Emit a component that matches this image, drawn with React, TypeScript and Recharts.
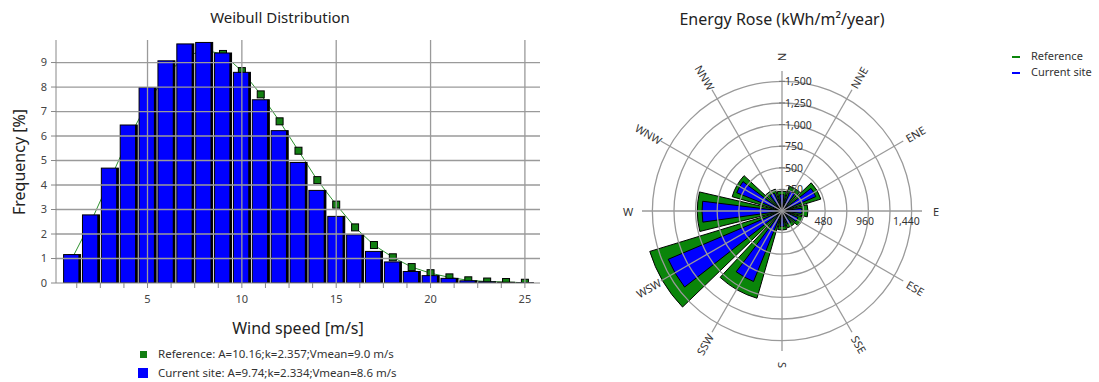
import React from 'react';
import {
  ComposedChart, Bar, Line, XAxis, YAxis, CartesianGrid,
  RadialBarChart, RadialBar, PolarAngleAxis, PolarRadiusAxis, PolarGrid,
} from 'recharts';

// ---------- Weibull distribution data ----------
const windSpeeds = [1, 2, 3, 4, 5, 6, 7, 8, 9, 10, 11, 12, 13, 14, 15, 16, 17, 18, 19, 20, 21, 22, 23, 24, 25];
const currentFrequency = [1.16, 2.78, 4.69, 6.45, 7.98, 9.07, 9.76, 9.82, 9.39, 8.6, 7.48, 6.22, 4.92, 3.78, 2.72, 1.97, 1.29, 0.86, 0.47, 0.3, 0.19, 0.09, 0.05, 0.03, 0.01];
const referenceFrequency = [1.0, 2.5, 4.2, 5.9, 7.35, 8.5, 9.25, 9.5, 9.35, 8.65, 7.7, 6.6, 5.4, 4.2, 3.2, 2.27, 1.55, 1.05, 0.65, 0.4, 0.23, 0.11, 0.06, 0.04, 0.01];
const xTicks = [1.25, 2.5, 3.75, 5, 6.25, 7.5, 8.75, 10, 11.25, 12.5, 13.75, 15, 16.25, 17.5, 18.75, 20, 21.25, 22.5, 23.75, 25];
const xGridValues = [5, 10, 15, 20, 25];
const yTicks = [0, 1, 2, 3, 4, 5, 6, 7, 8, 9];
const yGridValues = [1, 2, 3, 4, 5, 6, 7, 8, 9];
const yMinorTicks = [0, 0.2, 0.4, 0.6, 0.8, 1, 1.2, 1.4, 1.6, 1.8, 2, 2.2, 2.4, 2.6, 2.8, 3, 3.2, 3.4, 3.6, 3.8, 4, 4.2, 4.4, 4.6, 4.8, 5, 5.2, 5.4, 5.6, 5.8, 6, 6.2, 6.4, 6.6, 6.8, 7, 7.2, 7.4, 7.6, 7.8, 8, 8.2, 8.4, 8.6, 8.8, 9, 9.2, 9.4, 9.6, 9.8];
const weibullLegend = [
  'Reference: A=10.16;k=2.357;Vmean=9.0 m/s',
  'Current site: A=9.74;k=2.334;Vmean=8.6 m/s',
];

// ---------- Energy rose data ----------
const directions = ['N', 'NNE', 'ENE', 'E', 'ESE', 'SSE', 'S', 'SSW', 'WSW', 'W', 'WNW', 'NNW'];
const referenceEnergy = [230, 300, 470, 300, 255, 205, 220, 1050, 1600, 980, 600, 265];
const currentEnergy = [190, 255, 425, 230, 200, 165, 180, 880, 1430, 925, 565, 225];
const northTicks = [250, 500, 750, 1000, 1250, 1500];
const eastTicks = [480, 960, 1440];
const roseLegend = ['Reference', 'Current site'];

const weibullData = windSpeeds.map((v, i) => ({
  speed: v,
  current: currentFrequency[i],
  reference: referenceFrequency[i],
}));
const roseData = directions.map((d, i) => ({
  dir: d,
  reference: referenceEnergy[i],
  current: currentEnergy[i],
}));

const FONT = '"Noto Sans", "DejaVu Sans", sans-serif';
const GREEN = '#0a850a';
const BLUE = '#0000ff';
const GRID = '#9a9a9a';

const SECTOR = 360 / directions.length;
const spokeAngles = directions.map((_, i) => 90 - i * SECTOR);

const ROSE_CX = 200;
const ROSE_CY = 211;
const ROSE_R = 140;
const LABEL_R = 154;

const X_DOMAIN: [number, number] = [0.15, 25.8];
const Y_DOMAIN: [number, number] = [0, 9.92];

const BarShape = (p: any) => {
  const { x, y, width, height } = p;
  if (!height || height <= 0) return null;
  return (
    <g>
      <rect x={x} y={y} width={width} height={height} fill={BLUE} stroke="#000" strokeWidth={1} />
      <rect x={x + width - 2.2} y={y} width={2.2} height={height} fill="#000" />
    </g>
  );
};

const SquareDot = (p: any) => {
  const { cx, cy, index } = p;
  if (cx == null || cy == null) return <g key={index} />;
  return <rect key={index} x={cx - 3.5} y={cy - 3.5} width={7} height={7} fill="#127f12" stroke="#000" strokeWidth={1} />;
};

const fmt = (v: number) => v.toLocaleString('en-US');

const NorthTick = (p: any) => {
  const { x, y, payload } = p;
  return (
    <g>
      <line x1={x - 3} y1={y} x2={x + 3} y2={y} stroke="#777" strokeWidth={1} />
      <text x={x + 3} y={y + 4} fontSize={10.5} fontFamily={FONT} fill="#333">{fmt(payload.value)}</text>
    </g>
  );
};

const EastTick = (p: any) => {
  const { x, y, payload } = p;
  return (
    <text x={x} y={y + 14} textAnchor="middle" fontSize={10.5} fontFamily={FONT} fill="#333">{fmt(payload.value)}</text>
  );
};

const DirTick = (p: any) => {
  const { payload } = p;
  const ang = payload.coordinate + SECTOR / 2;
  const rad = (ang * Math.PI) / 180;
  const x = ROSE_CX + LABEL_R * Math.cos(rad);
  const y = ROSE_CY - LABEL_R * Math.sin(rad);
  let a = (((-ang) % 360) + 360) % 360;
  if (a > 90 && a <= 270) a -= 180;
  else if (a > 270) a -= 360;
  return (
    <text x={x} y={y} textAnchor="middle" dominantBaseline="central" fontSize={11} fontFamily={FONT} fill="#333"
      transform={`rotate(${a}, ${x}, ${y})`}>{payload.value}</text>
  );
};

const abs = (left: number, top: number, extra: any = {}) => ({ position: 'absolute' as const, left, top, ...extra });

export default function App() {
  return (
    <div style={{ position: 'absolute', left: 0, top: 0, width: 1099, height: 382, background: '#fff', fontFamily: FONT, overflow: 'hidden' }}>
      {/* ---- Weibull chart: reference line layer (beneath bars) ---- */}
      <div style={abs(0, 0)}>
        <ComposedChart width={560} height={382} data={weibullData} margin={{ top: 40, right: 20, bottom: 99, left: 56 }}>
          <XAxis dataKey="speed" type="number" domain={X_DOMAIN} allowDataOverflow hide />
          <YAxis type="number" domain={Y_DOMAIN} allowDataOverflow hide />
          <Line dataKey="reference" type="linear" stroke="#2f922f" strokeWidth={1} dot={<SquareDot />}
            activeDot={false} isAnimationActive={false} />
        </ComposedChart>
      </div>
      {/* ---- Weibull chart: bars, grid, axes ---- */}
      <div style={abs(0, 0)}>
        <ComposedChart width={560} height={382} data={weibullData} margin={{ top: 40, right: 20, bottom: 69, left: 0 }}>
          <XAxis dataKey="speed" type="number" domain={X_DOMAIN} allowDataOverflow ticks={xTicks}
            tickFormatter={(v: number) => (v % 5 === 0 ? String(v) : '')} interval={0}
            height={30} tickSize={5} tickMargin={7} stroke="#888"
            tick={{ fontSize: 11, fill: '#444', fontFamily: FONT }} />
          <YAxis yAxisId="minor" type="number" domain={Y_DOMAIN} allowDataOverflow ticks={yMinorTicks} interval={0}
            width={0} tick={false} tickSize={2.5} axisLine={false} stroke="#888" />
          <YAxis type="number" domain={Y_DOMAIN} allowDataOverflow ticks={yTicks} interval={0}
            width={56} tickSize={5} tickMargin={4} stroke="#888"
            tick={{ fontSize: 11, fill: '#444', fontFamily: FONT }} />
          <Bar dataKey="current" barSize={17} shape={<BarShape />} isAnimationActive={false} />
          <CartesianGrid stroke={GRID} strokeWidth={1.3} verticalValues={xGridValues} horizontalValues={yGridValues} zIndex={450} />
        </ComposedChart>
      </div>
      <div style={abs(0, 7, { width: 560, textAlign: 'center', fontSize: 15, color: '#222' })}>Weibull Distribution</div>
      <div style={abs(298, 317, { transform: 'translateX(-50%)', fontSize: 16, color: '#222', whiteSpace: 'nowrap' })}>Wind speed [m/s]</div>
      <svg style={abs(0, 40)} width={40} height={245}>
        <text x={19} y={122} transform="rotate(-90, 19, 122)" textAnchor="middle" dominantBaseline="central"
          fontSize={16} fontFamily={FONT} fill="#222">Frequency [%]</text>
      </svg>
      {/* legend */}
      <div style={abs(140, 350.5, { width: 7, height: 7, background: '#127f12' })} />
      <div style={abs(158, 345, { fontSize: 11.5, color: '#333', whiteSpace: 'nowrap', lineHeight: '17px' })}>{weibullLegend[0]}</div>
      <div style={abs(138, 368, { width: 10, height: 10, background: BLUE })} />
      <div style={abs(158, 364, { fontSize: 11.5, color: '#333', whiteSpace: 'nowrap', lineHeight: '17px' })}>{weibullLegend[1]}</div>

      {/* ---- Energy rose ---- */}
      <div style={abs(582, 0)}>
        <RadialBarChart width={400} height={382} data={roseData} layout="centric" cx={ROSE_CX} cy={ROSE_CY}
          innerRadius={0} outerRadius={ROSE_R} startAngle={90 - SECTOR / 2} endAngle={90 - SECTOR / 2 - 360}
          barCategoryGap={0} margin={{ top: 0, right: 0, bottom: 0, left: 0 }}>
          <PolarAngleAxis angleAxisId="g" dataKey="dir" type="category" axisLine={false} tickLine={false} tick={<DirTick />} />
          <PolarAngleAxis angleAxisId="b" dataKey="dir" type="category" axisLine={false} tickLine={false} tick={false} />
          <PolarRadiusAxis type="number" domain={[0, 1620]} allowDataOverflow ticks={northTicks} angle={90}
            axisLine={false} tick={<NorthTick />} />
          <PolarRadiusAxis radiusAxisId="e" type="number" domain={[0, 1620]} allowDataOverflow ticks={eastTicks} angle={0}
            axisLine={false} tick={<EastTick />} />
          <RadialBar angleAxisId="g" dataKey="reference" barSize={30} fill={GREEN} stroke="#000" strokeWidth={1}
            isAnimationActive={false} />
          <RadialBar angleAxisId="b" dataKey="current" barSize={15} fill={BLUE} stroke="#000" strokeWidth={1}
            isAnimationActive={false} />
          <PolarGrid angleAxisId="g" gridType="circle" polarAngles={spokeAngles} stroke={GRID} strokeWidth={1.3} zIndex={450} />
        </RadialBarChart>
      </div>
      <div style={abs(582, 8, { width: 400, textAlign: 'center', fontSize: 16, color: '#222' })}>Energy Rose (kWh/m²/year)</div>
      <div style={abs(1012, 56, { width: 8, height: 2, background: GREEN })} />
      <div style={abs(1031, 48, { fontSize: 11, color: '#333', whiteSpace: 'nowrap', lineHeight: '16px' })}>{roseLegend[0]}</div>
      <div style={abs(1012, 72, { width: 8, height: 2, background: BLUE })} />
      <div style={abs(1031, 64, { fontSize: 11, color: '#333', whiteSpace: 'nowrap', lineHeight: '16px' })}>{roseLegend[1]}</div>
    </div>
  );
}
